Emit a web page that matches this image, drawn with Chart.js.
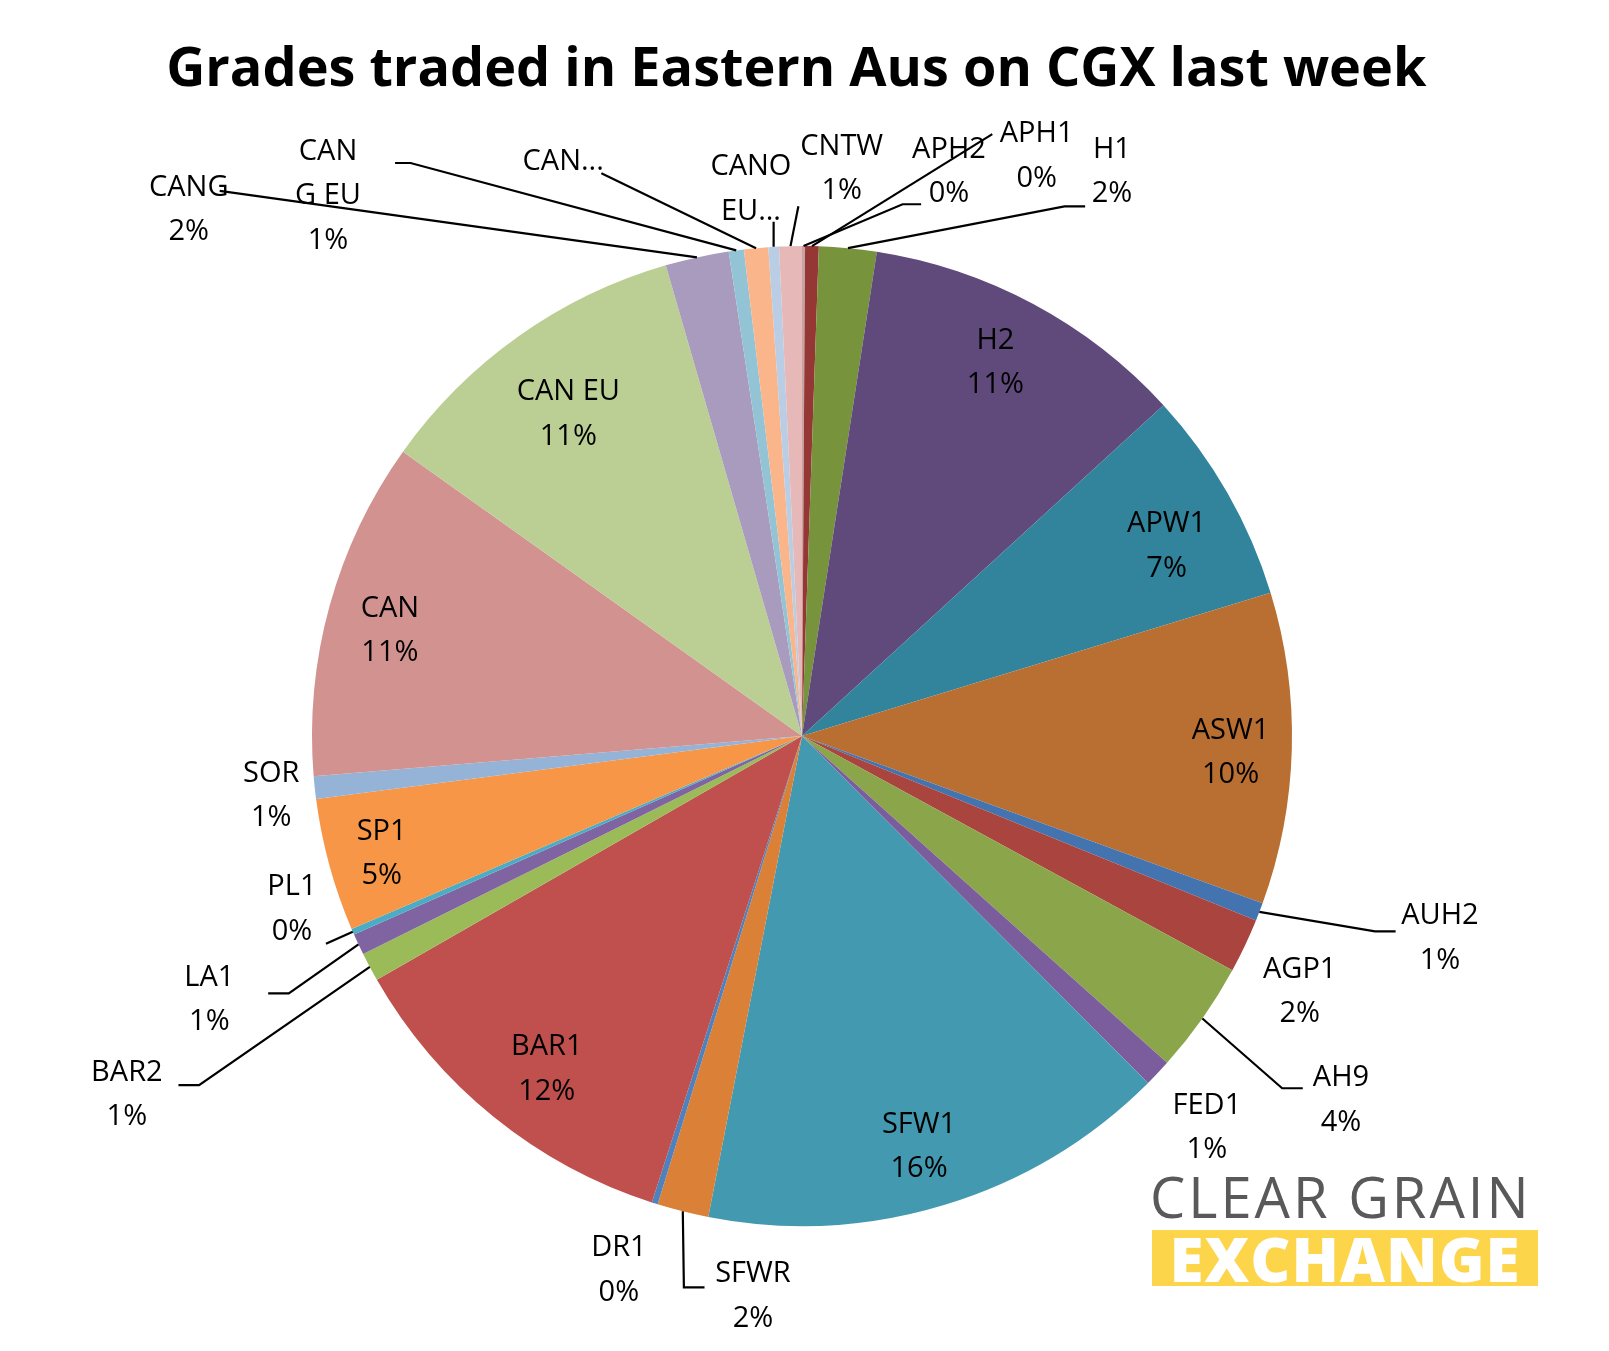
<!DOCTYPE html>
<html><head><meta charset="utf-8">
<script src="https://cdn.jsdelivr.net/npm/chart.js@4"></script>
<style>
body{margin:0;background:#fff;}
#wrap{position:relative;width:1609px;height:1351px;}
#logo1{position:absolute;left:1150px;top:1166px;font:400 56px "Open Sans";color:#595959;letter-spacing:3px;line-height:60px;}
#logo2{position:absolute;left:1152px;top:1230px;width:386px;height:56px;background:#FCD54A;color:#fff;font:800 62px "Open Sans";line-height:56px;overflow:hidden;letter-spacing:1px;text-align:center;}
</style></head><body>
<div id="wrap"><canvas id="c" width="1609" height="1351"></canvas>
<div id="logo1">CLEAR GRAIN</div><div id="logo2">EXCHANGE</div></div>
<script>
const grades = ['APH2','APH1','H1','H2','APW1','ASW1','AUH2','AGP1','AH9','FED1','SFW1','SFWR','DR1','BAR1','BAR2','LA1','PL1','SP1','SOR','CAN','CAN EU','CANG','CAN G EU','CAN...','CANO EU...','CNTW']
const shares = [0.1,0.45,1.9,10.8,7.1,10.3,0.6,1.8,3.7,0.9,15.6,1.7,0.2,11.8,0.95,0.7,0.2,4.4,0.75,11.2,10.7,2.1,0.5,0.8,0.35,0.75]
const colors = ['#C9A3A2','#953735','#77933C','#604A7B','#31849B','#B96F32','#4374B0','#A9443F','#8BA64A','#7B5C9C','#4399B0','#DA8137','#4F81BD','#C0504D','#9BBB59','#8064A2','#4BACC6','#F79646','#95B3D7','#D29290','#BBCF94','#A99BBD','#92C4D5','#FAB58A','#B9CDE5','#E6B9B8']

const S = 1.0315 // layout units -> pixels

const labelLayout = {
  'APH2':{lines:['APH2','0%'],x:920,y:145,path:[[875,198],[893,198]]},
  'APH1':{lines:['APH1','0%'],x:1005,y:130,path:[[962,130]]},
  'H1':{lines:['H1','2%'],x:1078,y:145,path:[[1032,200],[1052,200]]},
  'H2':{lines:['H2','11%'],x:965,y:330},
  'APW1':{lines:['APW1','7%'],x:1131,y:508},
  'ASW1':{lines:['ASW1','10%'],x:1193,y:708},
  'AUH2':{lines:['AUH2','1%'],x:1396,y:888,path:[[1333,903],[1353,903]]},
  'AGP1':{lines:['AGP1','2%'],x:1260,y:940},
  'AH9':{lines:['AH9','4%'],x:1300,y:1045,path:[[1243,1055],[1263,1055]]},
  'FED1':{lines:['FED1','1%'],x:1170,y:1072},
  'SFW1':{lines:['SFW1','16%'],x:891,y:1090},
  'SFWR':{lines:['SFWR','2%'],x:730,y:1235,path:[[663,1248],[683,1248]]},
  'DR1':{lines:['DR1','0%'],x:600,y:1210},
  'BAR1':{lines:['BAR1','12%'],x:530,y:1015},
  'BAR2':{lines:['BAR2','1%'],x:123,y:1040,path:[[193,1052],[173,1052]]},
  'LA1':{lines:['LA1','1%'],x:203,y:948,path:[[280,963],[260,963]]},
  'PL1':{lines:['PL1','0%'],x:283,y:860,path:[[316,915]]},
  'SP1':{lines:['SP1','5%'],x:370,y:806},
  'SOR':{lines:['SOR','1%'],x:263,y:750},
  'CAN':{lines:['CAN','11%'],x:378,y:590},
  'CAN EU':{lines:['CAN EU','11%'],x:551,y:380},
  'CANG':{lines:['CANG','2%'],x:183,y:182,path:[[213,185]]},
  'CAN G EU':{lines:['CAN','G EU','1%'],x:318,y:147,path:[[398,158],[383,158]]},
  'CAN...':{lines:['CAN...'],x:546,y:157,path:[[583,168]]},
  'CANO EU...':{lines:['CANO','EU...'],x:728,y:162,path:[[750,215]]},
  'CNTW':{lines:['CNTW','1%'],x:816,y:142,path:[[774,200]]}
}

const labelPlugin = {
  id:'labels',
  afterDraw(chart){
    const c = chart.ctx
    const meta = chart.getDatasetMeta(0)
    c.save()
    c.fillStyle = '#000'
    c.textAlign = 'center'; c.textBaseline = 'middle'
    c.font = 'bold 54px "Open Sans"'
    c.fillText('Grades traded in Eastern Aus on CGX last week', 772*S, 68*S)
    c.font = '29px "Open Sans"'
    grades.forEach((g,i)=>{
      const L = labelLayout[g]
      const arc = meta.data[i]
      if (L.path){
        const mid = (arc.startAngle+arc.endAngle)/2
        c.strokeStyle = '#000'; c.lineWidth = 2.2
        c.beginPath()
        c.moveTo(arc.x + Math.cos(mid)*arc.outerRadius, arc.y + Math.sin(mid)*arc.outerRadius)
        L.path.forEach(p=>c.lineTo(p[0]*S,p[1]*S))
        c.stroke()
      }
      L.lines.forEach((t,k)=>c.fillText(t, L.x*S, (L.y + k*43)*S))
    })
    c.restore()
  }
}

new Chart(document.getElementById('c'), {
  type:'pie',
  data:{labels:grades,datasets:[{data:shares,backgroundColor:colors,borderWidth:0}]},
  options:{
    responsive:false,animation:false,
    layout:{padding:{left:312,right:317,top:246,bottom:125}},
    plugins:{legend:{display:false},tooltip:{enabled:false}}
  },
  plugins:[labelPlugin]
})
</script></body></html>
